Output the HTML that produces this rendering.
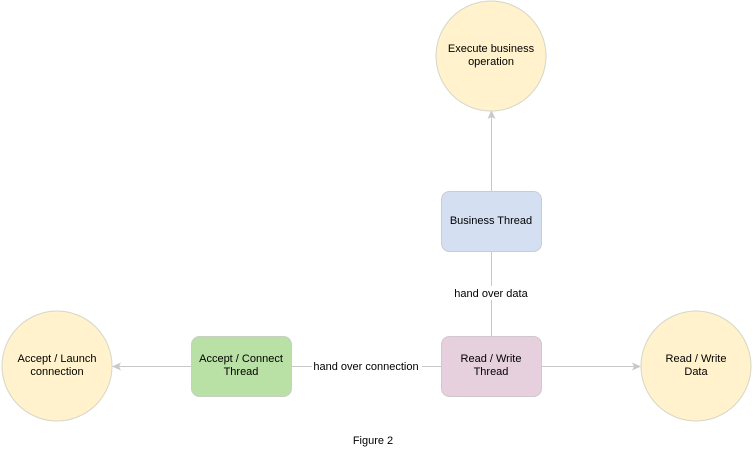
<!DOCTYPE html>
<html><head><meta charset="utf-8"><style>
html,body{margin:0;padding:0;background:#fff;}
svg text{font-family:"Liberation Sans",Arial,sans-serif;font-size:11px;fill:#000;}
</style></head><body>
<svg width="753" height="466" xmlns="http://www.w3.org/2000/svg">
<g stroke="#c8c8c8" stroke-width="1" fill="none">
<line x1="491.5" y1="191" x2="491.5" y2="114"/>
<line x1="491.5" y1="251" x2="491.5" y2="336"/>
<line x1="541" y1="366.5" x2="637" y2="366.5"/>
<line x1="191" y1="366.5" x2="116" y2="366.5"/>
<line x1="291" y1="366.5" x2="441" y2="366.5"/>
</g>
<g fill="#c8c8c8">
<polygon points="491.5,110 487.5,119 491.5,117 495.5,119"/>
<polygon points="641,366.5 632,362.5 634,366.5 632,370.5"/>
<polygon points="112,366.5 121,362.5 119,366.5 121,370.5"/>
</g>
<rect x="452" y="286" width="80" height="14" fill="#fff"/>
<rect x="312" y="359" width="110" height="14" fill="#fff"/>
<circle cx="491" cy="56" r="55" fill="#fff2cc" stroke="#d6d6c8"/>
<circle cx="696" cy="366" r="55" fill="#fff2cc" stroke="#d6d6c8"/>
<circle cx="57" cy="366" r="55" fill="#fff2cc" stroke="#d6d6c8"/>
<rect x="441.5" y="191.5" width="100" height="60" rx="8" fill="#d4e0f2" stroke="#c8ccd4"/>
<rect x="441.5" y="336.5" width="100" height="60" rx="8" fill="#e6d0de" stroke="#d0c8cc"/>
<rect x="191.5" y="336.5" width="100" height="60" rx="8" fill="#b9e0a5" stroke="#c8d0c4"/>
<g text-anchor="middle">
<text x="491" y="52">Execute business</text>
<text x="491" y="65">operation</text>
<text x="491" y="224">Business Thread</text>
<text x="491" y="362">Read / Write</text>
<text x="491" y="375">Thread</text>
<text x="696" y="362">Read / Write</text>
<text x="696" y="375">Data</text>
<text x="241" y="362">Accept / Connect</text>
<text x="241" y="375">Thread</text>
<text x="57" y="362">Accept / Launch</text>
<text x="57" y="375">connection</text>
<text x="491" y="297">hand over data</text>
<text x="366" y="370">hand over connection</text>
<text x="373" y="444">Figure 2</text>
</g>
</svg>
</body></html>
